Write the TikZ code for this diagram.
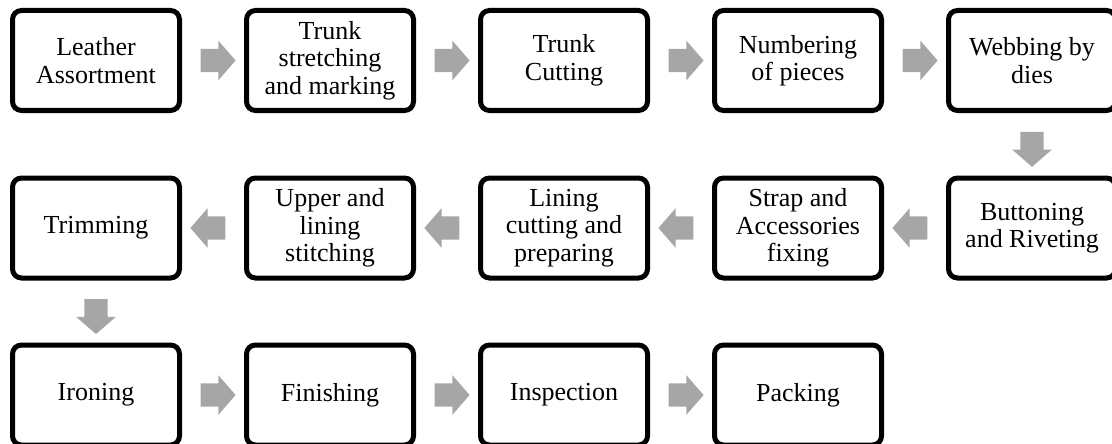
\documentclass[tikz,border=0pt]{standalone}
\usepackage{fontspec}
\setmainfont{Liberation Serif}
\usetikzlibrary{shapes.arrows}
\definecolor{arrowgray}{HTML}{A6A6A6}
\begin{document}
\begin{tikzpicture}[x=1pt,y=1pt,
  stepbox/.style={draw=black, line width=5pt, rounded corners=9pt,
    minimum width=167pt, minimum height=100pt, inner sep=0pt,
    align=center, font=\fontsize{26}{27.5}\selectfont, fill=white},
  blk/.style={single arrow, fill=arrowgray, draw=none, inner xsep=0pt,
    inner ysep=11.5pt, minimum height=35pt, single arrow head extend=8pt,
    single arrow tip angle=98, anchor=center}]
\useasboundingbox (0,0) rectangle (1112,-444);
% row 1
\node[stepbox] (a1) at (96,-60.5)  {Leather\\Assortment};
\node[stepbox] (a2) at (330,-60.5) {Trunk\\stretching\\and marking};
\node[stepbox] (a3) at (564,-60.5) {Trunk\\Cutting};
\node[stepbox] (a4) at (798,-60.5) {Numbering\\of pieces};
\node[stepbox] (a5) at (1032,-60.5) {Webbing by\\dies};
% row 2
\node[stepbox] (b5) at (1032,-228) {Buttoning\\and Riveting};
\node[stepbox] (b4) at (798,-228) {Strap and\\Accessories\\fixing};
\node[stepbox] (b3) at (564,-228) {Lining\\cutting and\\preparing};
\node[stepbox] (b2) at (330,-228) {Upper and\\lining\\stitching};
\node[stepbox] (b1) at (96,-228) {Trimming};
% row 3
\node[stepbox] (c1) at (96,-395) {Ironing};
\node[stepbox] (c2) at (330,-395) {Finishing};
\node[stepbox] (c3) at (564,-395) {Inspection};
\node[stepbox] (c4) at (798,-395) {Packing};
% arrows
\path (a1.east) -- (a2.west) node[midway, blk] {};
\path (a2.east) -- (a3.west) node[midway, blk] {};
\path (a3.east) -- (a4.west) node[midway, blk] {};
\path (a4.east) -- (a5.west) node[midway, blk] {};
\path (a5.south) -- (b5.north) node[midway, blk, rotate=-90] {};
\path (b5.west) -- (b4.east) node[midway, blk, rotate=180] {};
\path (b4.west) -- (b3.east) node[midway, blk, rotate=180] {};
\path (b3.west) -- (b2.east) node[midway, blk, rotate=180] {};
\path (b2.west) -- (b1.east) node[midway, blk, rotate=180] {};
\path (b1.south) -- (c1.north) node[midway, blk, rotate=-90] {};
\path (c1.east) -- (c2.west) node[midway, blk] {};
\path (c2.east) -- (c3.west) node[midway, blk] {};
\path (c3.east) -- (c4.west) node[midway, blk] {};
\end{tikzpicture}
\end{document}
